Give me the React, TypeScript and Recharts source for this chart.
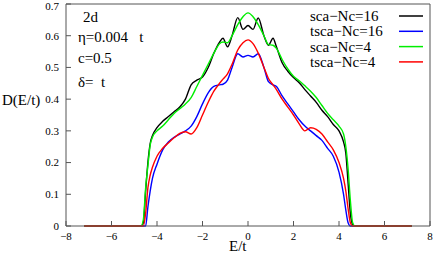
import React from "react";
import { LineChart, Line, XAxis, YAxis, Legend } from "recharts";

const energies = [-7.2, -4.7, -4.6, -4.5, -4.4, -4.3, -4.2, -4.0, -3.75, -3.5, -3.25, -3.0, -2.75, -2.5, -2.25, -2.0, -1.75, -1.5, -1.25, -1.1, -0.9, -0.7, -0.45, -0.22, 0, 0.22, 0.45, 0.7, 0.9, 1.1, 1.25, 1.5, 1.75, 2.0, 2.25, 2.5, 2.75, 3.0, 3.25, 3.5, 3.75, 4.0, 4.2, 4.3, 4.4, 4.5, 4.6, 4.7, 7.2];

const scaNc16 = [0, 0, 0.01, 0.11, 0.2, 0.26, 0.285, 0.31, 0.33, 0.345, 0.36, 0.375, 0.4, 0.445, 0.46, 0.47, 0.5, 0.545, 0.58, 0.592, 0.565, 0.6, 0.657, 0.62, 0.632, 0.62, 0.656, 0.6, 0.57, 0.592, 0.565, 0.515, 0.488, 0.468, 0.452, 0.43, 0.41, 0.39, 0.365, 0.345, 0.32, 0.3, 0.265, 0.23, 0.135, 0.04, 0.005, 0, 0];

const tscaNc16 = [0, 0, 0, 0, 0.06, 0.11, 0.15, 0.195, 0.24, 0.265, 0.28, 0.29, 0.3, 0.315, 0.345, 0.385, 0.42, 0.44, 0.445, 0.447, 0.46, 0.5, 0.543, 0.533, 0.538, 0.533, 0.543, 0.5, 0.455, 0.445, 0.44, 0.41, 0.385, 0.36, 0.335, 0.315, 0.3, 0.285, 0.27, 0.245, 0.22, 0.17, 0.1, 0.05, 0.01, 0, 0, 0, 0];

const scaNc4 = [0, 0, 0.02, 0.12, 0.19, 0.255, 0.28, 0.3, 0.315, 0.335, 0.355, 0.37, 0.385, 0.405, 0.44, 0.475, 0.51, 0.545, 0.575, 0.58, 0.578, 0.6, 0.635, 0.66, 0.672, 0.66, 0.635, 0.6, 0.572, 0.57, 0.56, 0.525, 0.495, 0.472, 0.458, 0.442, 0.425, 0.405, 0.38, 0.355, 0.335, 0.315, 0.29, 0.25, 0.18, 0.08, 0.01, 0, 0];

const tscaNc4 = [0, 0, 0, 0.04, 0.12, 0.16, 0.185, 0.22, 0.245, 0.262, 0.278, 0.292, 0.297, 0.29, 0.31, 0.35, 0.39, 0.425, 0.45, 0.463, 0.48, 0.51, 0.555, 0.578, 0.587, 0.575, 0.545, 0.5, 0.465, 0.445, 0.43, 0.4, 0.375, 0.35, 0.322, 0.3, 0.31, 0.305, 0.29, 0.265, 0.24, 0.2, 0.15, 0.11, 0.055, 0.01, 0, 0, 0];

const xTicks = [-8, -6, -4, -2, 0, 2, 4, 6, 8];
const yTicks = [0, 0.1, 0.2, 0.3, 0.4, 0.5, 0.6, 0.7];

const seriesNames = ["sca\u2212Nc=16", "tsca\u2212Nc=16", "sca\u2212Nc=4", "tsca\u2212Nc=4"];
const seriesKeys = ["s16", "t16", "s4", "t4"];
const seriesColors = ["#000000", "#0000ff", "#00ee00", "#ff0000"];
const seriesValues = [scaNc16, tscaNc16, scaNc4, tscaNc4];

const annotations = ["2d", "\u03b7=0.004\u00a0\u00a0\u00a0t", "c=0.5", "\u03b4=\u00a0\u00a0t"];

const data = energies.map((e, i) => {
  const row: any = { E: e };
  seriesKeys.forEach((k, j) => {
    row[k] = seriesValues[j][i];
  });
  return row;
});

const serif = "'Liberation Serif', 'Times New Roman', 'DejaVu Serif', serif";
const axisColor = "#555555";
const textStyle = { fontFamily: serif };

const fmtX = (v: number) => String(v).replace("-", "\u2212");
const fmtY = (v: number) => String(v);

const renderLegend = () => (
  <svg width={130} height={70} style={{ overflow: "visible" }}>
    {seriesNames.map((n, i) => (
      <g key={n}>
        <text x={0} y={i * 15.3} dominantBaseline="central" style={textStyle} fontSize={15} fill="#000">
          {n}
        </text>
        <line x1={89} x2={113} y1={i * 15.3} y2={i * 15.3} stroke={seriesColors[i]} strokeWidth={1.5} />
      </g>
    ))}
  </svg>
);

export default function App() {
  return (
    <div style={{ position: "absolute", left: 0, top: 0, width: 436, height: 255, fontFamily: serif }}>
      <LineChart width={436} height={255} data={data} margin={{ top: 0, right: 0, bottom: 0, left: 0 }}>
        <XAxis
          xAxisId="b"
          dataKey="E"
          type="number"
          domain={[-8, 8]}
          ticks={xTicks}
          height={29}
          tickSize={-5}
          tickMargin={11}
          tickFormatter={fmtX}
          tick={{ fontSize: 11, fill: "#000", style: textStyle }}
          stroke={axisColor}
          allowDataOverflow
        />
        <XAxis
          xAxisId="t"
          orientation="top"
          dataKey="E"
          type="number"
          domain={[-8, 8]}
          ticks={xTicks}
          height={4}
          tickSize={-5}
          tick={false}
          stroke={axisColor}
        />
        <YAxis
          yAxisId="l"
          type="number"
          domain={[0, 0.7]}
          ticks={yTicks}
          width={66}
          tickSize={-5}
          tickMargin={12}
          tickFormatter={fmtY}
          tick={{ fontSize: 11, fill: "#000", style: textStyle }}
          stroke={axisColor}
        />
        <YAxis
          yAxisId="r"
          orientation="right"
          type="number"
          domain={[0, 0.7]}
          ticks={yTicks}
          width={6}
          tickSize={-5}
          tick={false}
          stroke={axisColor}
        />
        <Legend
          layout="vertical"
          align="center"
          verticalAlign="middle"
          content={renderLegend}
          wrapperStyle={{ position: "absolute", left: 310, top: 16, width: 130, height: 70 }}
        />
        {seriesKeys.map((k, i) => (
          <Line
            key={k}
            xAxisId="b"
            yAxisId="l"
            dataKey={k}
            name={seriesNames[i]}
            type="monotone"
            stroke={seriesColors[i]}
            strokeWidth={1.4}
            dot={false}
            activeDot={false}
            isAnimationActive={false}
          />
        ))}
      </LineChart>
      <svg
        width={436}
        height={255}
        style={{ position: "absolute", left: 0, top: 0, pointerEvents: "none" }}
      >
        <text x={83} y={17} dominantBaseline="central" style={textStyle} fontSize={15}>
          {annotations[0]}
        </text>
        {annotations.slice(1).map((a, i) => (
          <text
            key={a}
            x={78}
            y={[37, 58, 82][i]}
            dominantBaseline="central"
            style={textStyle}
            fontSize={15}
          >
            {a}
          </text>
        ))}
        <text x={2} y={100} dominantBaseline="central" style={textStyle} fontSize={15}>
          D(E/t)
        </text>
        <text x={229} y={246} dominantBaseline="central" style={textStyle} fontSize={15}>
          E/t
        </text>
      </svg>
    </div>
  );
}
